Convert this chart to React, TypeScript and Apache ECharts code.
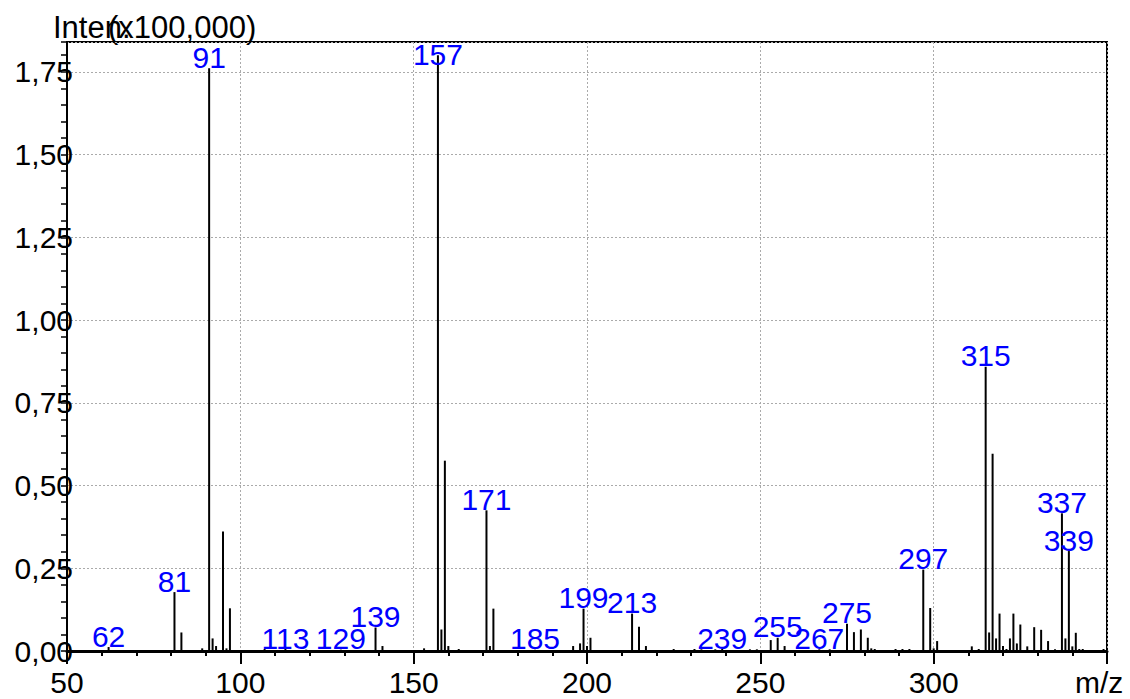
import React, { useEffect, useRef } from "react";
import * as echarts from "echarts";

// m/z values of the peaks
const MZ = [
  62, 81, 83, 89, 91, 92, 93, 95, 96, 97, 107, 113, 119, 129, 139, 141, 153, 157, 158, 159,
  160, 163, 171, 172, 173, 185, 196, 198, 199, 200, 201, 213, 215, 217, 225, 231, 233, 237,
  239, 247, 249, 253, 255, 257, 267, 270, 275, 277, 279, 281, 282, 283, 289, 291, 293, 297,
  299, 300, 301, 311, 313, 315, 316, 317, 318, 319, 320, 321, 322, 323, 324, 325, 327, 329,
  331, 333, 335, 337, 338, 339, 340, 341, 342, 343, 349,
];

// intensities (x100,000)
const INTENSITY = [
  0.012, 0.178, 0.056, 0.008, 1.761, 0.038, 0.015, 0.361, 0.008, 0.129, 0.006, 0.006, 0.004,
  0.004, 0.071, 0.015, 0.008, 1.8, 0.065, 0.575, 0.015, 0.006, 0.425, 0.015, 0.128, 0.004,
  0.015, 0.023, 0.128, 0.015, 0.04, 0.113, 0.073, 0.015, 0.006, 0.006, 0.005, 0.005, 0.006,
  0.005, 0.005, 0.033, 0.04, 0.015, 0.005, 0.005, 0.082, 0.057, 0.065, 0.04, 0.008, 0.006,
  0.006, 0.006, 0.006, 0.246, 0.13, 0.008, 0.03, 0.014, 0.006, 0.859, 0.056, 0.596, 0.038,
  0.113, 0.015, 0.006, 0.038, 0.113, 0.023, 0.08, 0.014, 0.072, 0.064, 0.03, 0.005, 0.416,
  0.038, 0.302, 0.014, 0.055, 0.006, 0.006, 0.006,
];

// peaks that carry an m/z label
const LABELED = [
  62, 81, 91, 113, 129, 139, 157, 171, 185, 199, 213, 239, 255, 267, 275, 297, 315, 337, 339,
];

const FONT = "Liberation Sans, Arial, sans-serif";
const FS = 30;

export default function App() {
  const ref = useRef<HTMLDivElement>(null);

  useEffect(() => {
    document.body.style.margin = "0";
    const chart = echarts.init(ref.current!, null, { renderer: "svg" });

    const labelDistance = (mz: number) => (mz === 157 ? -14 : -4);

    const data = MZ.map((mz, i) => ({
      value: [mz, INTENSITY[i]],
      label: LABELED.includes(mz)
        ? { show: true, distance: labelDistance(mz) }
        : { show: false },
    }));

    const yFmt = (v: number) =>
      Math.abs(v / 0.25 - Math.round(v / 0.25)) < 1e-6 ? v.toFixed(2).replace(".", ",") : "";

    chart.setOption({
      animation: false,
      grid: {
        left: 67,
        right: 23,
        top: 42,
        bottom: 48,
        show: true,
        borderColor: "#000",
        borderWidth: 2,
        backgroundColor: "transparent",
      },
      xAxis: {
        type: "value",
        min: 50,
        max: 350,
        interval: 50,
        axisLine: { show: true, lineStyle: { color: "#000", width: 3 } },
        axisTick: { show: true, length: 13, lineStyle: { color: "#000", width: 2 } },
        minorTick: { show: true, splitNumber: 5, length: 5, lineStyle: { color: "#000", width: 2 } },
        axisLabel: {
          formatter: (v: number) => (v === 350 ? "" : String(v)),
          margin: 16,
          fontSize: FS,
          lineHeight: FS,
          fontFamily: FONT,
          color: "#000",
        },
        splitLine: { show: true, lineStyle: { color: "#aaa", type: [2, 2], width: 1 } },
      },
      yAxis: [
        {
          type: "value",
          min: 0,
          max: 1.84,
          interval: 0.25,
          axisLine: { show: true, lineStyle: { color: "#000", width: 2 } },
          axisTick: { show: false },
          axisLabel: {
            formatter: yFmt,
            margin: -6,
            fontSize: FS,
            lineHeight: FS,
            fontFamily: FONT,
            color: "#000",
          },
          splitLine: { show: true, lineStyle: { color: "#aaa", type: [2, 2], width: 1 } },
        },
        {
          type: "value",
          min: 0,
          max: 1.84,
          interval: 0.05,
          position: "left",
          axisLine: { show: false },
          axisTick: { show: true, length: 6, lineStyle: { color: "#000", width: 1.5 } },
          axisLabel: { show: false },
          splitLine: { show: false },
        },
      ],
      series: [
        {
          type: "bar",
          xAxisIndex: 0,
          yAxisIndex: 0,
          barWidth: 2,
          itemStyle: { color: "#000" },
          label: {
            position: "top",
            color: "#0000ff",
            fontSize: FS,
            lineHeight: FS,
            fontFamily: FONT,
            formatter: (p: any) => String(p.value[0]),
          },
          data,
        },
      ],
      graphic: [
        {
          type: "text",
          x: 53,
          y: 27,
          style: { text: "Inten.", fontSize: 31, fontFamily: FONT, fill: "#000", verticalAlign: "middle" },
        },
        {
          type: "text",
          x: 108,
          y: 27,
          style: { text: "(x100,000)", fontSize: 31, fontFamily: FONT, fill: "#000", verticalAlign: "middle" },
        },
        {
          type: "text",
          x: 1075,
          y: 682,
          style: { text: "m/z", fontSize: FS, fontFamily: FONT, fill: "#000", verticalAlign: "middle" },
        },
      ],
    });

    return () => chart.dispose();
  }, []);

  return <div ref={ref} style={{ width: 1130, height: 699 }} />;
}
